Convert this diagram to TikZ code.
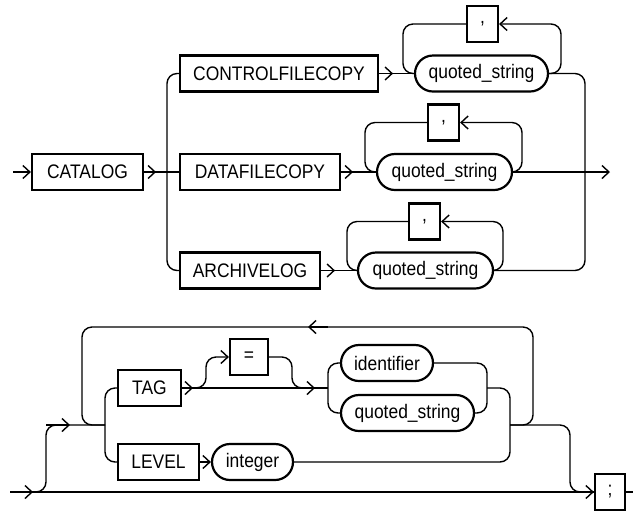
\documentclass[tikz,border=0pt]{standalone}
\usepackage{fontspec}
\setmainfont[FakeStretch=0.89]{Liberation Sans}
\usepackage{tikz}
\usetikzlibrary{arrows.meta,shapes.misc}
\tikzset{
box/.style = {rectangle, draw=black, line width=1.1pt, minimum width=#1,
              minimum height=18pt, inner sep=0pt},
box/.default = 15.5pt % width of the comma boxes
}
\tikzset{
oval/.style = {rounded rectangle, draw=black, line width=1.1pt,
               minimum width=#1, minimum height=18pt, inner sep=0pt}
}
\tikzset{
rail/.style = {line width=0.7pt, rounded corners=5pt}
}

\begin{document}
\begin{tikzpicture}[x=0.5pt, y=-0.5pt, line width=0.7pt,
    >={Straight Barb[length=3.5pt,width=6.5pt]},
    font=\fontsize{9.8}{11}\selectfont]
    \useasboundingbox (0,0) rectangle (633,511);

    % upper diagram
    \node[box=55.5pt] (catalogBox) at (87.5,172) {CATALOG};
    \node[box=99pt] (ctrlBox) at (279,73.5) {CONTROLFILECOPY};
    \node[box=80pt] (dataBox) at (260,172) {DATAFILECOPY};
    \node[box=70pt] (archBox) at (250,270.5) {ARCHIVELOG};
    \node[oval=66.5pt] (ctrlQs) at (481.5,73.5) {quoted\_string};
    \node[oval=67.5pt] (dataQs) at (444.5,172) {quoted\_string};
    \node[oval=67.5pt] (archQs) at (425.5,270.5) {quoted\_string};
    \node[box] (ctrlComma) at (482.5,24) {,};
    \node[box] (dataComma) at (443.5,122.5) {,};
    \node[box] (archComma) at (424.5,221.5) {,};

    \coordinate (startNode) at (13,172);
    \coordinate (endNode) at (610,172);
    \coordinate (splitLeft) at (167,172);
    \coordinate (joinRight) at (585,172);
    \coordinate (ctrlLoopL) at (403,73.5);
    \coordinate (ctrlLoopR) at (561,73.5);
    \coordinate (dataLoopL) at (365,172);
    \coordinate (dataLoopR) at (522,172);
    \coordinate (archLoopL) at (347,270.5);
    \coordinate (archLoopR) at (503,270.5);

    \draw[->] (startNode) -- (catalogBox.west);
    \draw (catalogBox.east) -- (dataBox.west);
    \draw[->] (catalogBox.east) -- ++(12,0);
    \draw[rail] (ctrlBox.west) -| (splitLeft) |- (archBox.west);

    \draw (ctrlBox.east) -- (ctrlQs.west);
    \draw[->] (ctrlBox.east) -- ++(14,0);
    \draw (dataBox.east) -- (dataQs.west);
    \draw[->] (dataBox.east) -- ++(12,0);
    \draw (archBox.east) -- (archQs.west);
    \draw[->] (archBox.east) -- ++(14,0);

    \draw[rail] (ctrlComma.west) -| (ctrlLoopL) -- (ctrlQs.west);
    \draw[rail,->] (ctrlQs.east) -- (ctrlLoopR) |- (ctrlComma.east);
    \draw[rail] (dataComma.west) -| (dataLoopL) -- (dataQs.west);
    \draw[rail,->] (dataQs.east) -- (dataLoopR) |- (dataComma.east);
    \draw[rail] (archComma.west) -| (archLoopL) -- (archQs.west);
    \draw[rail,->] (archQs.east) -- (archLoopR) |- (archComma.east);

    \draw[rail] (ctrlQs.east) -| (joinRight) |- (archQs.east);
    \draw[->] (dataQs.east) -- (endNode);

    % lower diagram
    \node[box=31.5pt] (tagBox) at (149.5,388) {TAG};
    \node[box=40.5pt] (levelBox) at (158.5,462) {LEVEL};
    \node[oval=40.5pt] (intOval) at (252.5,462) {integer};
    \node[box=19pt] (eqBox) at (249,357) {=};
    \node[oval=46pt] (idOval) at (387,363) {identifier};
    \node[oval=66.5pt] (tagQs) at (407.5,413) {quoted\_string};
    \node[box=15pt] (semiBox) at (610,492) {;};

    \coordinate (startLow) at (10,492);
    \coordinate (endLow) at (633,492);
    \coordinate (upTurn) at (46,425);
    \coordinate (loopIn) at (105,425);
    \coordinate (loopBackL) at (82,327);
    \coordinate (loopBackR) at (533,327);
    \coordinate (backTip) at (308,327);
    \coordinate (tagSplit) at (193,388);
    \coordinate (eqUp) at (206,388);
    \coordinate (eqDown) at (292,388);
    \coordinate (tagTip) at (315,388);
    \coordinate (idSplit) at (328,388);
    \coordinate (idJoin) at (487,388);
    \coordinate (levelJoin) at (510,425);
    \coordinate (exitDown) at (570,492);

    \draw (startLow) -- (semiBox.west);
    \draw[->] (startLow) -- ++(23,0);
    \draw[rail] (startLow) -| (upTurn) -- (loopIn);
    \draw[->] (upTurn) -- ++(24,0);
    \draw[rail] (tagBox.west) -| (loopIn) |- (levelBox.west);
    \draw[rail] (levelJoin) -| (loopBackR) -- (loopBackL) |- (loopIn);
    \draw[->] ([xshift=10pt]backTip) -- (backTip);

    \draw (tagBox.east) -- (idSplit);
    \draw[->] (tagBox.east) -- (tagSplit);
    \draw[rail,->] (tagSplit) -- (eqUp) |- (eqBox.west);
    \draw[rail] (eqBox.east) -| (eqDown) -- (tagTip);
    \draw[->] (eqDown) -- (tagTip);

    \draw[rail] (idOval.west) -| (idSplit) |- (tagQs.west);
    \draw[rail] (idOval.east) -| (idJoin) |- (tagQs.east);
    \draw[rail] (idJoin) -| (levelJoin) |- (intOval.east);
    \draw[->] (levelBox.east) -- (intOval.west);

    \draw[rail] (levelJoin) -| (exitDown) -- (semiBox.west);
    \draw[->] (exitDown) -- (semiBox.west);
    \draw (semiBox.east) -- (endLow);
  \end{tikzpicture}
\end{document}
